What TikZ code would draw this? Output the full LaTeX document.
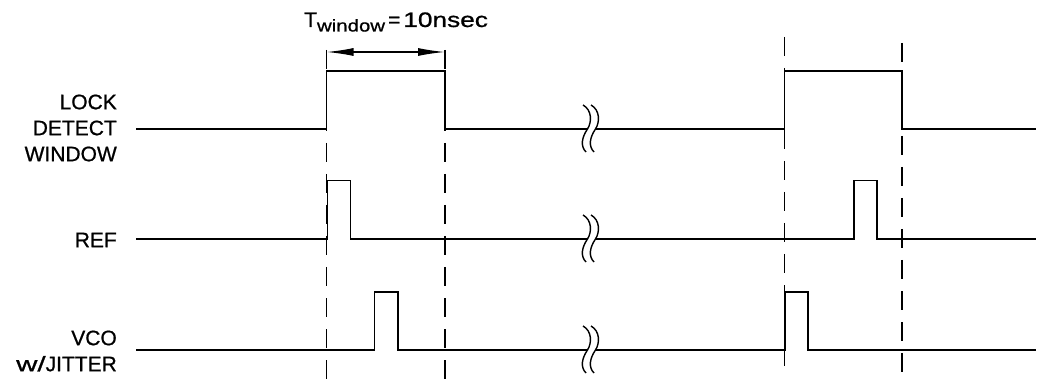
\documentclass[tikz,border=0pt]{standalone}
\usepackage{fontspec}
\setmainfont{Liberation Sans}[FakeBold=0.8]
\usetikzlibrary{arrows.meta}
\newcommand\wideL[2][1.35]{\scalebox{#1}[1]{#2}}
\newcommand\brksym[1]{%
  \draw[brk] (583,#1-24) .. controls (592,#1-19) and (592,#1-7) .. (587.5,#1) .. controls (582,#1+8) and (580,#1+17) .. (586,#1+23);
  \draw[brk] (591,#1-24) .. controls (600,#1-19) and (600,#1-7) .. (595.5,#1) .. controls (590,#1+8) and (588,#1+17) .. (594,#1+23);}
\begin{document}
\begin{tikzpicture}[x=1pt,y=-1pt,
  wave/.style={line width=1.8pt,line join=miter},
  brk/.style={line width=1.4pt},
  guide/.style={line width=1.4pt,dash pattern=on 19pt off 12pt},
  lbl/.style={font=\fontsize{21}{26}\selectfont,align=right,anchor=east,inner sep=0pt},
  dim/.style={line width=1.4pt,{Latex[length=27pt,width=8pt]}-{Latex[length=27pt,width=8pt]}}]
\useasboundingbox (0,0) rectangle (1038,387);
% guides
\draw[guide] (326.5,50) -- (326.5,386);
\draw[guide] (445,50) -- (445,386);
\draw[guide] (784.5,37) -- (784.5,374);
\draw[guide] (902,43) -- (902,379);
% dimension
\coordinate (ta) at (326.5,52);
\coordinate (tb) at (445,52);
\draw[dim] (ta) -- (tb);
\node[anchor=base west,inner sep=0pt,font=\fontsize{21}{21}\selectfont] (title) at (304,27)
  {T\raisebox{-4.5pt}{\fontsize{17}{17}\selectfont\wideL[1.2]{window}}\hspace{3pt}=\hspace{3pt}\wideL[1.25]{10nsec}};
% labels
\node[lbl] (lockl) at (117,128) {LOCK\\DETECT\\WINDOW};
\node[lbl] (refl) at (117,240) {REF};
\node[lbl] (vcol) at (117,351) {VCO\\\wideL[1.4]{w/}JITTER};
% waveforms
\draw[wave] (136,129) -- (326.5,129) -- (326.5,71) -- (445,71) -- (445,129) -- (588,129);
\draw[wave] (595.5,129) -- (784.5,129) -- (784.5,71) -- (902,71) -- (902,129) -- (1036,129);
\draw[wave] (136,239) -- (327.5,239) -- (327.5,180.5) -- (350.5,180.5) -- (350.5,239) -- (588,239);
\draw[wave] (595.5,239) -- (854,239) -- (854,180.5) -- (877,180.5) -- (877,239) -- (1036,239);
\draw[wave] (136,350) -- (374.5,350) -- (374.5,292) -- (398,292) -- (398,350) -- (588,350);
\draw[wave] (595.5,350) -- (785,350) -- (785,292) -- (808,292) -- (808,350) -- (1036,350);
\brksym{129}
\brksym{239}
\brksym{350}
\end{tikzpicture}
\end{document}
